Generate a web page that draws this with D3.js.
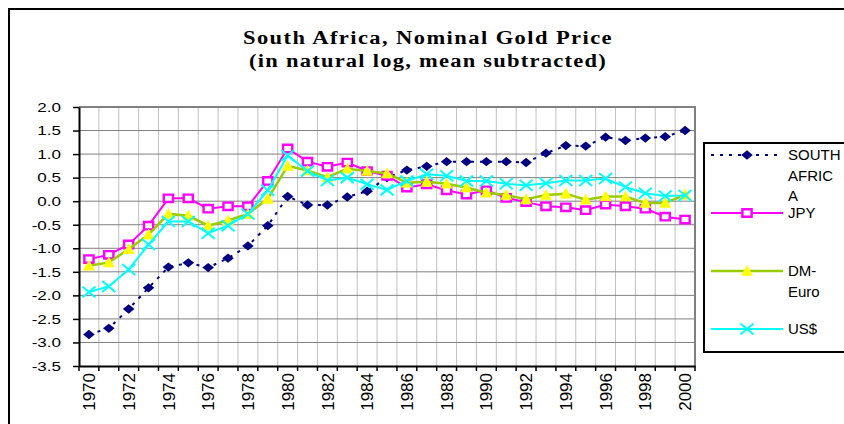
<!DOCTYPE html>
<html>
<head>
<meta charset="utf-8">
<script src="https://cdn.jsdelivr.net/npm/d3@7"></script>
<style>
  body { margin: 0; background: #fff; }
  svg { display: block; font-family: "Liberation Sans", Arial, sans-serif; }
</style>
</head>
<body>
<svg id="chart" width="844" height="424"></svg>
<script>
// data
const years = d3.range(1970, 2001);
const xTickLabels = [1970, 1972, 1974, 1976, 1978, 1980, 1982, 1984, 1986, 1988, 1990, 1992, 1994, 1996, 1998, 2000];
const yTicks = [-3.5, -3.0, -2.5, -2.0, -1.5, -1.0, -0.5, 0.0, 0.5, 1.0, 1.5, 2.0];

const southAfrica = [-2.83, -2.70, -2.29, -1.84, -1.40, -1.31, -1.41, -1.21, -0.95, -0.52,
    0.10, -0.08, -0.08, 0.09, 0.21, 0.50, 0.66, 0.74, 0.84, 0.84,
    0.84, 0.84, 0.82, 1.02, 1.18, 1.17, 1.36, 1.29, 1.34, 1.37, 1.50];
const jpy = [-1.23, -1.14, -0.92, -0.52, 0.06, 0.06, -0.16, -0.11, -0.11, 0.43,
    1.12, 0.84, 0.73, 0.82, 0.64, 0.54, 0.29, 0.36, 0.23, 0.14,
    0.23, 0.07, -0.02, -0.11, -0.13, -0.19, -0.07, -0.11, -0.16, -0.33, -0.39];
const dmEuro = [-1.37, -1.30, -1.02, -0.71, -0.27, -0.31, -0.52, -0.41, -0.27, 0.05,
    0.75, 0.65, 0.51, 0.69, 0.64, 0.59, 0.39, 0.41, 0.37, 0.29,
    0.18, 0.13, 0.04, 0.13, 0.16, 0.03, 0.10, 0.10, -0.04, -0.04, 0.14];
const usd = [-1.93, -1.81, -1.45, -0.92, -0.43, -0.43, -0.68, -0.52, -0.27, 0.23,
    0.97, 0.64, 0.44, 0.50, 0.36, 0.24, 0.43, 0.57, 0.54, 0.43,
    0.43, 0.37, 0.34, 0.38, 0.44, 0.44, 0.48, 0.30, 0.17, 0.11, 0.12];

const titleLines = ["South Africa, Nominal Gold Price", "(in natural log, mean subtracted)"];
const seriesNames = ["SOUTH AFRICA", "JPY", "DM-Euro", "US$"];
// how the legend box wraps each name
const legendLines = [["SOUTH", "AFRIC", "A"], ["JPY"], ["DM-", "Euro"], ["US$"]];

// layout
const plot = { left: 79, right: 695, top: 107, bottom: 366 };
const legendBox = { x: 704, y: 143, w: 200, h: 209 };
const legendRowY = [155, 213, 271, 329];

const svg = d3.select("#chart");

const x = d3.scaleBand().domain(years).range([plot.left, plot.right]);
const y = d3.scaleLinear().domain([-3.5, 2.0]).range([plot.bottom, plot.top]);
const cx = (yr) => x(yr) + x.bandwidth() / 2;

// outer chart border (only top and left show)
svg.append("path")
    .attr("d", `M9,424 V9 H844`)
    .attr("fill", "none")
    .attr("stroke", "#000")
    .attr("stroke-width", 2);

// title: wide bold serif, stretched like the original
titleLines.forEach((t, i) => {
    const sx = 1.25;
    const target = i === 0 ? 370 : 358;
    const txt = svg.append("text")
        .attr("transform", `translate(428,${i === 0 ? 44 : 67}) scale(${sx},1)`)
        .attr("text-anchor", "middle")
        .attr("font-family", "'Liberation Serif', 'Times New Roman', serif")
        .attr("font-weight", "bold")
        .attr("font-size", 18)
        .text(t);
    const natural = txt.node().getComputedTextLength();
    txt.attr("letter-spacing", Math.max(0, (target / sx - natural) / t.length));
});

// grid
const grid = svg.append("g");
grid.selectAll(".vgrid")
    .data(years.slice(1))
    .enter()
    .append("line")
    .attr("x1", (d) => x(d))
    .attr("x2", (d) => x(d))
    .attr("y1", plot.top)
    .attr("y2", plot.bottom)
    .attr("stroke", "#c0c0c0")
    .attr("stroke-width", 1);
grid.selectAll(".hgrid")
    .data(yTicks.filter((d) => d > -3.5 && d < 2.0))
    .enter()
    .append("line")
    .attr("x1", plot.left)
    .attr("x2", plot.right)
    .attr("y1", (d) => y(d))
    .attr("y2", (d) => y(d))
    .attr("stroke", "#808080")
    .attr("stroke-width", 1);

// plot area border top / right
svg.append("path")
    .attr("d", `M${plot.left},${y(2.0)} H${plot.right} V${plot.bottom}`)
    .attr("fill", "none")
    .attr("stroke", "#808080")
    .attr("stroke-width", 2);

// y axis
const yAxis = svg.append("g")
    .attr("transform", `translate(${plot.left},0)`)
    .call(d3.axisLeft(y).tickValues(yTicks).tickSize(6).tickSizeOuter(0).tickFormat((d) => d.toFixed(1)));
yAxis.select(".domain").attr("stroke", "#000").attr("stroke-width", 2);
yAxis.selectAll(".tick line").attr("stroke", "#000").attr("stroke-width", 1.5);
yAxis.selectAll(".tick text")
    .attr("x", 0)
    .attr("dy", "0.36em")
    .attr("transform", "translate(-18,0) scale(1.42,1)")
    .attr("font-size", 12)
    .attr("font-family", "'Liberation Sans', Arial, sans-serif")
    .attr("fill", "#000");

// x axis
const xAxis = svg.append("g")
    .attr("transform", `translate(0,${plot.bottom})`)
    .call(d3.axisBottom(x).tickValues(xTickLabels).tickSize(0).tickSizeOuter(0));
xAxis.select(".domain").attr("stroke", "#000").attr("stroke-width", 2);
xAxis.selectAll(".tick text")
    .attr("transform", "rotate(-90)")
    .attr("text-anchor", "end")
    .attr("x", -7)
    .attr("y", 0)
    .attr("dy", "0.36em")
    .attr("font-size", 17)
    .attr("font-family", "'Liberation Sans', Arial, sans-serif")
    .attr("fill", "#000");
// tick marks on category boundaries
xAxis.selectAll(".bound")
    .data(years.concat([null]))
    .enter()
    .append("line")
    .attr("x1", (d) => d === null ? plot.right : x(d))
    .attr("x2", (d) => d === null ? plot.right : x(d))
    .attr("y1", 0)
    .attr("y2", 5)
    .attr("stroke", "#000")
    .attr("stroke-width", 1.5);

// markers
const markerPath = {
    diamond: "M0,-4.7 L5.8,0 L0,4.7 L-5.8,0 Z",
    square: "M-4.6,-3.7 H4.6 V3.7 H-4.6 Z",
    triangle: "M0,-6 L6,4.8 L-6,4.8 Z",
    cross: "M-6.5,-5.5 L6.5,5.5 M-6.5,5.5 L6.5,-5.5"
};

const series = [
    { name: seriesNames[0], values: southAfrica, line: "#000080", width: 2, dash: "3,6",
        marker: "diamond", fill: "#000080", stroke: "none", mw: 0 },
    { name: seriesNames[1], values: jpy, line: "#ff00ff", width: 2, dash: null,
        marker: "square", fill: "#fff", stroke: "#ff00ff", mw: 2.4 },
    { name: seriesNames[2], values: dmEuro, line: "#99cc00", width: 2.5, dash: null,
        marker: "triangle", fill: "#ffff00", stroke: "none", mw: 0 },
    { name: seriesNames[3], values: usd, line: "#00ffff", width: 2, dash: null,
        marker: "cross", fill: "none", stroke: "#00ffff", mw: 2 }
];

const drawMarker = (g, s, px, py) => {
    g.append("path")
        .attr("d", markerPath[s.marker])
        .attr("transform", `translate(${px},${py})`)
        .attr("fill", s.fill)
        .attr("stroke", s.stroke)
        .attr("stroke-width", s.mw);
};

series.forEach((s) => {
    const g = svg.append("g");
    g.append("path")
        .datum(s.values)
        .attr("fill", "none")
        .attr("stroke", s.line)
        .attr("stroke-width", s.width)
        .attr("stroke-dasharray", s.dash)
        .attr("d", d3.line()
            .x((d, i) => cx(years[i]))
            .y((d) => y(d)));
    s.values.forEach((v, i) => drawMarker(g, s, cx(years[i]), y(v)));
});

// legend
const legend = svg.append("g");
legend.append("rect")
    .attr("x", legendBox.x)
    .attr("y", legendBox.y)
    .attr("width", legendBox.w)
    .attr("height", legendBox.h)
    .attr("fill", "#fff")
    .attr("stroke", "#000")
    .attr("stroke-width", 2);

series.forEach((s, i) => {
    const ly = legendRowY[i];
    legend.append("line")
        .attr("x1", 711)
        .attr("x2", 783)
        .attr("y1", ly)
        .attr("y2", ly)
        .attr("stroke", s.line)
        .attr("stroke-width", s.width)
        .attr("stroke-dasharray", s.dash);
    drawMarker(legend, s, 747, ly);
    legendLines[i].forEach((t, j) => {
        legend.append("text")
            .attr("x", 788)
            .attr("y", ly + 5.2 + j * 20.5)
            .attr("font-size", 15)
            .attr("fill", "#000")
            .text(t);
    });
});
</script>
</body>
</html>
